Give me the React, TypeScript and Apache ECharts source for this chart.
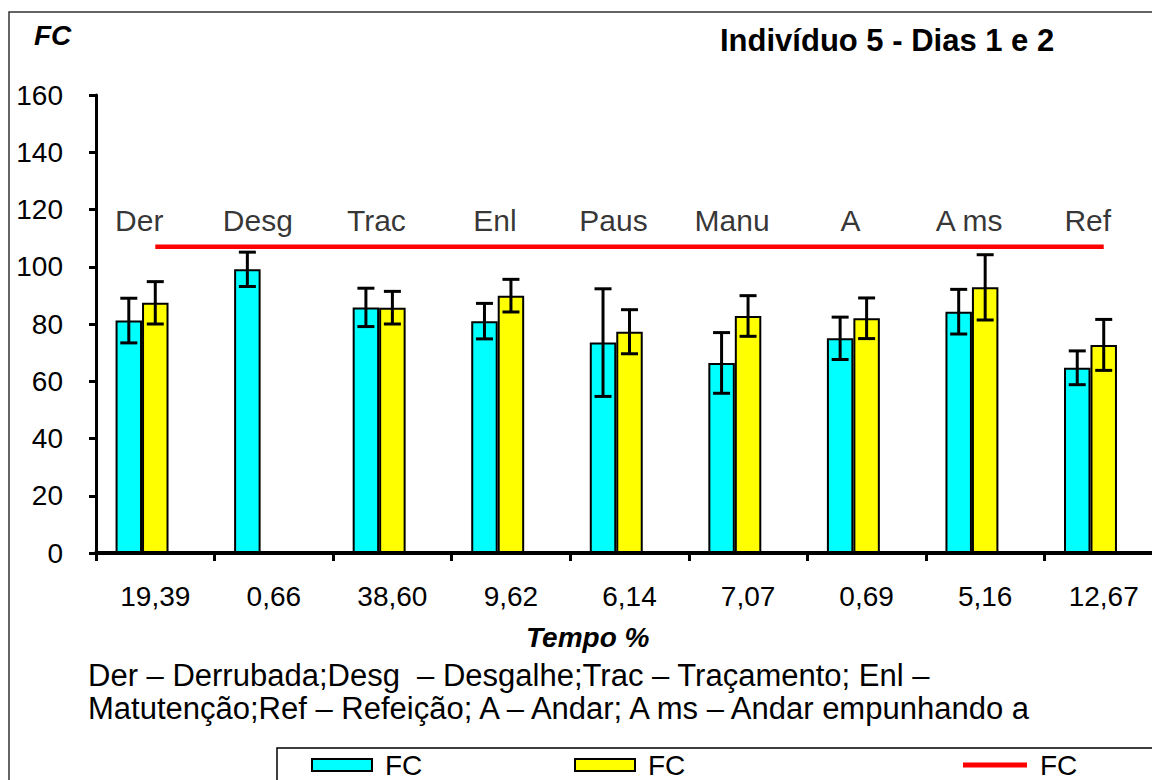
import React, { useEffect, useRef } from 'react';
import * as echarts from 'echarts';

// Categories (activities) and time-share labels on the x axis
const activities = ['Der', 'Desg', 'Trac', 'Enl', 'Paus', 'Manu', 'A', 'A ms', 'Ref'];
const timePct = ['19,39', '0,66', '38,60', '9,62', '6,14', '7,07', '0,69', '5,16', '12,67'];

// Heart rate (FC) means and standard deviations
const fcDay1 = [81.2, 99.1, 85.8, 81.0, 73.5, 66.4, 75.0, 84.3, 64.7];
const fcDay1Err = [7.8, 6.0, 6.7, 6.2, 18.8, 10.6, 7.4, 7.8, 5.9];
const fcDay2: (number | null)[] = [87.4, null, 85.7, 89.9, 77.3, 82.8, 82.0, 92.8, 72.7];
const fcDay2Err: (number | null)[] = [7.4, null, 5.7, 5.7, 7.7, 7.1, 7.1, 11.4, 8.9];
const fcLimit = [107, 107, 107, 107, 107, 107, 107, 107, 107];

// Y axis
const yMin = 0;
const yMax = 160;
const yInterval = 20;

const FONT = "'Liberation Sans', Arial, sans-serif";
const CAT_GAP = 0.33;
const SLOTS = 3;

function errorSeries(vals: (number | null)[], errs: (number | null)[], slot: number) {
  const data: number[][] = [];
  vals.forEach((v, i) => {
    const e = errs[i];
    if (v != null && e != null) data.push([i, v - e, v + e]);
  });
  return {
    type: 'custom',
    silent: true,
    z: 10,
    data,
    encode: { x: 0, y: [1, 2] },
    renderItem: (params: any, api: any) => {
      const i = api.value(0);
      const lo = api.coord([i, api.value(1)]);
      const hi = api.coord([i, api.value(2)]);
      const catW = api.size([1, 0])[0];
      const bw = (catW * (1 - CAT_GAP)) / SLOTS;
      const x = lo[0] + (slot - 1) * bw;
      const cap = 8.5;
      const style = { stroke: '#000', lineWidth: 3, fill: 'none' };
      return {
        type: 'group',
        children: [
          { type: 'line', shape: { x1: x, y1: hi[1], x2: x, y2: lo[1] }, style },
          { type: 'line', shape: { x1: x - cap, y1: hi[1], x2: x + cap, y2: hi[1] }, style },
          { type: 'line', shape: { x1: x - cap, y1: lo[1], x2: x + cap, y2: lo[1] }, style },
        ],
      };
    },
  };
}

export default function App() {
  const ref = useRef<HTMLDivElement>(null);
  useEffect(() => {
    if (!ref.current) return;
    const chart = echarts.init(ref.current, undefined, { renderer: 'svg' });
    const legendText = { fontSize: 28, color: '#000', fontFamily: FONT, padding: [0, 0, 0, 8] };
    chart.setOption({
      animation: false,
      backgroundColor: '#fff',
      textStyle: { fontFamily: FONT, color: '#000' },
      title: [
        {
          text: 'FC', left: 34, top: 21, padding: 0,
          textStyle: { fontSize: 28, fontStyle: 'italic', fontWeight: 'bold', color: '#000', fontFamily: FONT },
        },
        {
          text: 'Indivíduo 5 - Dias 1 e 2', left: 720, top: 25, padding: 0,
          textStyle: { fontSize: 31, fontWeight: 'bold', color: '#000', fontFamily: FONT },
        },
        {
          text: 'Tempo %', left: 526, top: 623, padding: 0,
          textStyle: { fontSize: 28, fontStyle: 'italic', fontWeight: 'bold', color: '#000', fontFamily: FONT },
        },
        {
          text: 'Der – Derrubada;Desg  – Desgalhe;Trac – Traçamento; Enl –\nMatutenção;Ref – Refeição; A – Andar; A ms – Andar empunhando a',
          left: 88, top: 659, padding: 0,
          textStyle: { fontSize: 31, fontWeight: 'normal', lineHeight: 33, color: '#000', fontFamily: FONT },
        },
      ],
      legend: [
        {
          data: [{ name: 'FC1', icon: 'rect' }], left: 311, top: 751, padding: 0,
          itemWidth: 60, itemHeight: 12, formatter: () => 'FC', textStyle: legendText,
        },
        {
          data: [{ name: 'FC2', icon: 'rect' }], left: 574, top: 751, padding: 0,
          itemWidth: 60, itemHeight: 12, formatter: () => 'FC', textStyle: legendText,
        },
        {
          data: [{ name: 'FC3', icon: 'rect', itemStyle: { color: '#ff0000' } }], left: 963, top: 751, padding: 0,
          itemWidth: 64, itemHeight: 5, formatter: () => 'FC', textStyle: legendText,
        },
      ],
      graphic: [
        {
          type: 'rect', silent: true,
          shape: { x: 9, y: 12, width: 1300, height: 1000 },
          style: { fill: 'none', stroke: '#333', lineWidth: 1.5 },
        },
        {
          type: 'rect', silent: true,
          shape: { x: 277, y: 748, width: 1000, height: 200 },
          style: { fill: 'none', stroke: '#000', lineWidth: 1.5 },
        },
      ],
      grid: { left: 96, top: 95, width: 1067, height: 458, containLabel: false, outerBoundsMode: 'none' },
      xAxis: {
        type: 'category',
        data: timePct,
        axisLine: { lineStyle: { color: '#000', width: 4 } },
        axisTick: { show: true, length: 8, lineStyle: { color: '#000', width: 3 } },
        axisLabel: { fontSize: 28, color: '#000', margin: 29, fontFamily: FONT },
        splitLine: { show: false },
      },
      yAxis: {
        type: 'value',
        min: yMin, max: yMax, interval: yInterval,
        axisLine: { show: true, lineStyle: { color: '#000', width: 3 } },
        axisTick: { show: true, length: 7, lineStyle: { color: '#000', width: 3 } },
        axisLabel: { fontSize: 28, color: '#000', margin: 33, fontFamily: FONT },
        splitLine: { show: false },
      },
      series: [
        {
          name: 'FC1', type: 'bar', data: fcDay1,
          barGap: '0%', barCategoryGap: CAT_GAP * 100 + '%',
          itemStyle: { color: '#00ffff', borderColor: '#000', borderWidth: 2 },
        },
        {
          name: 'FC2', type: 'bar', data: fcDay2,
          itemStyle: { color: '#ffff00', borderColor: '#000', borderWidth: 2 },
        },
        {
          name: 'empty', type: 'bar', data: activities.map(() => null),
          itemStyle: { color: 'transparent' },
        },
        {
          name: 'FC3', type: 'line', data: fcLimit, symbol: 'none',
          lineStyle: { color: '#ff0000', width: 4.5 },
          itemStyle: { color: '#ff0000' },
          z: 5,
        },
        {
          name: 'labels', type: 'scatter', data: fcLimit, symbolSize: 1, silent: true,
          itemStyle: { color: 'rgba(0,0,0,0)' },
          label: {
            show: true, position: 'inside', offset: [-16, -26],
            formatter: (p: any) => activities[p.dataIndex],
            fontSize: 30, color: '#000', fontFamily: FONT, verticalAlign: 'middle',
          },
        },
        errorSeries(fcDay1, fcDay1Err, 0),
        errorSeries(fcDay2, fcDay2Err, 1),
      ],
    });
    return () => chart.dispose();
  }, []);
  return <div ref={ref} style={{ position: 'absolute', left: 0, top: 0, width: 1152, height: 780 }} />;
}
